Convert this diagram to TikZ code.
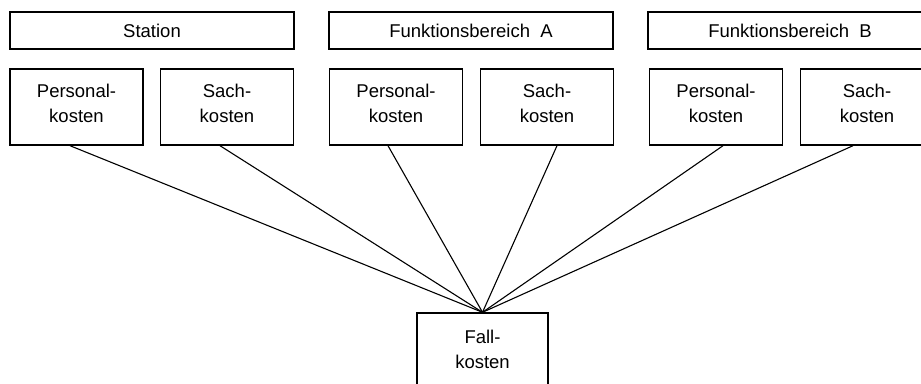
\documentclass[tikz,border=0pt]{standalone}
\usepackage{fontspec}
\setmainfont{Liberation Sans}
% extra depth below the last line lifts a two-line label a little
\newcommand{\lowstrut}{\rule[-7pt]{0pt}{7pt}}
\begin{document}
\begin{tikzpicture}[x=1pt,y=-1pt,
  box/.style={draw, line width=1.4pt, inner sep=0pt, align=center,
    font=\fontsize{18.5}{25}\selectfont},
  head/.style={box, minimum width=284pt, minimum height=37pt},
  cost/.style={box, minimum width=133pt, minimum height=76pt},
  link/.style={line width=1.1pt}]
\useasboundingbox (0,0) rectangle (921,383);

% header boxes
\node[head] (station) at (152,30.5) {Station};
\node[head] (fbA) at (471,30.5) {Funktionsbereich~~A};
\node[head] (fbB) at (790,30.5) {Funktionsbereich~~B};

% cost boxes
\node[cost] (p1) at (76.5,107) {Personal-\\kosten\lowstrut};
\node[cost] (s1) at (227,107) {Sach-\\kosten\lowstrut};
\node[cost] (p2) at (396,107) {Personal-\\kosten\lowstrut};
\node[cost] (s2) at (547,107) {Sach-\\kosten\lowstrut};
\node[cost] (p3) at (716,107) {Personal-\\kosten\lowstrut};
\node[cost] (s3) at (867,107) {Sach-\\kosten\lowstrut};

% case costs
\node[box, minimum width=131pt, minimum height=72pt] (fall) at (482.5,349) {Fall-\\kosten};

% connectors
\draw[link] ([xshift=-6.5pt]p1.south) -- (fall.north);
\draw[link] ([xshift=-7pt]s1.south) -- (fall.north);
\draw[link] ([xshift=-8pt]p2.south) -- (fall.north);
\draw[link] ([xshift=10pt]s2.south) -- (fall.north);
\draw[link] ([xshift=7pt]p3.south) -- (fall.north);
\draw[link] ([xshift=-14pt]s3.south) -- (fall.north);
\end{tikzpicture}
\end{document}
